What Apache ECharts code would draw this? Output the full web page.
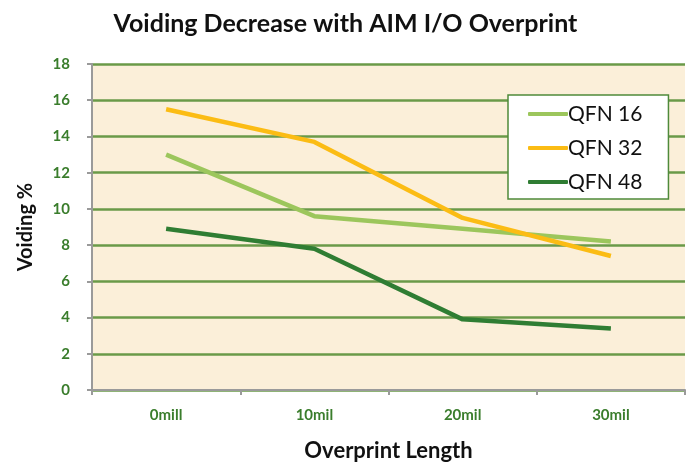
<!DOCTYPE html>
<html>
<head>
<meta charset="utf-8">
<script src="https://cdn.jsdelivr.net/npm/echarts@6/dist/echarts.min.js"></script>
<style>
  html, body { margin: 0; padding: 0; background: #fff; }
  #chart { width: 691px; height: 467px; }
</style>
</head>
<body>
<div id="chart"></div>
<script>
// overprint lengths on x axis
const categories = ['0mill', '10mil', '20mil', '30mil']
// voiding % per package
const qfn16 = [13.0, 9.6, 8.9, 8.2]
const qfn32 = [15.5, 13.7, 9.5, 7.4]
const qfn48 = [8.9, 7.8, 3.9, 3.4]

const font = 'Lato, "Open Sans", sans-serif'
const labelGreen = '#3a7d2c'

const chart = echarts.init(document.getElementById('chart'))

function lineSeries(name, data, color) {
  return {
    name: name,
    type: 'line',
    data: data,
    symbol: 'none',
    lineStyle: { color: color, width: 4.5 },
    itemStyle: { color: color }
  }
}

chart.setOption({
  animation: false,
  title: {
    text: 'Voiding Decrease with AIM I/O Overprint',
    left: 'center',
    top: 6,
    textStyle: { fontFamily: font, fontSize: 25, fontWeight: 'bold', color: '#111' }
  },
  grid: {
    left: 92,
    right: 6,
    top: 64,
    bottom: 73,
    show: true,
    backgroundColor: '#fbefd9',
    borderWidth: 0
  },
  legend: {
    orient: 'vertical',
    left: 508,
    top: 95,
    padding: [8, 26, 6, 20],
    backgroundColor: '#ffffff',
    borderColor: '#4f8a3a',
    borderWidth: 1.5,
    icon: 'roundRect',
    itemWidth: 40,
    itemHeight: 4,
    itemGap: 12,
    textStyle: { fontFamily: font, fontSize: 21, color: '#111', padding: [0, 0, 0, -5], lineHeight: 22 },
    data: ['QFN 16', 'QFN 32', 'QFN 48']
  },
  xAxis: {
    type: 'category',
    data: categories,
    boundaryGap: true,
    name: 'Overprint Length',
    nameLocation: 'middle',
    nameGap: 50,
    nameTextStyle: { fontFamily: font, fontSize: 22, fontWeight: 'bold', color: '#111' },
    axisLine: { lineStyle: { color: '#9a9a9a', width: 2 } },
    axisTick: { show: true, length: 5, lineStyle: { color: '#9a9a9a', width: 2 } },
    axisLabel: { margin: 18, fontFamily: font, fontSize: 15, fontWeight: 'bold', color: labelGreen },
    splitLine: { show: false }
  },
  yAxis: {
    type: 'value',
    min: 0,
    max: 18,
    interval: 2,
    name: 'Voiding %',
    nameLocation: 'middle',
    nameGap: 56,
    nameTextStyle: { fontFamily: font, fontSize: 20, fontWeight: 'bold', color: '#111' },
    axisLine: { show: true, lineStyle: { color: '#9a9a9a', width: 2 } },
    axisTick: { show: true, length: 5, lineStyle: { color: '#9a9a9a', width: 2 } },
    axisLabel: { margin: 22, fontFamily: font, fontSize: 15, fontWeight: 'bold', color: labelGreen },
    splitLine: { show: true, lineStyle: { color: '#6a9a48', width: 2.5 } }
  },
  series: [
    lineSeries('QFN 16', qfn16, '#9cc65c'),
    lineSeries('QFN 32', qfn32, '#fbbc14'),
    lineSeries('QFN 48', qfn48, '#2f7d33')
  ]
})
</script>
</body>
</html>
